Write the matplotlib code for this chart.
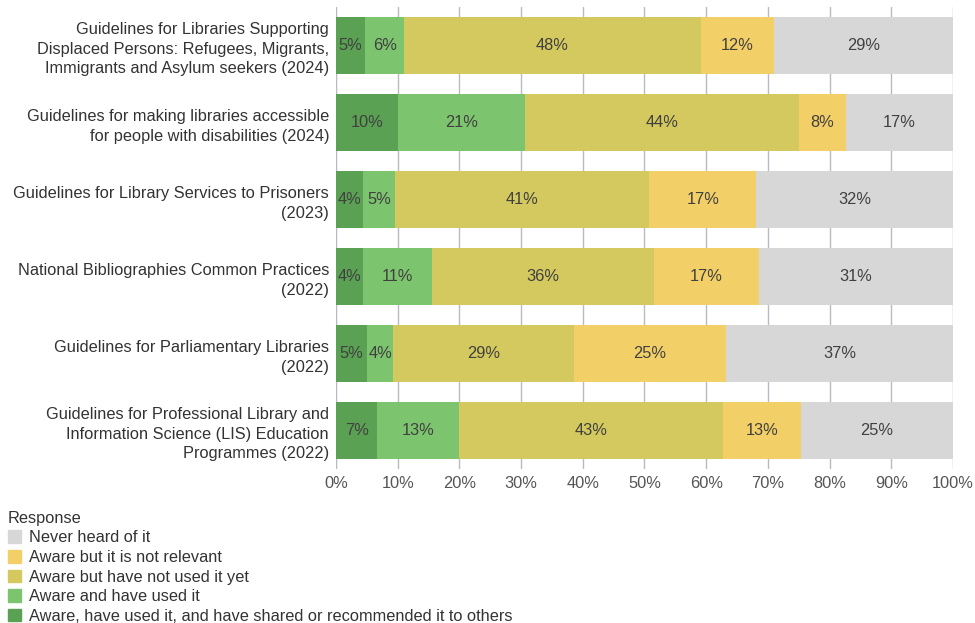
import matplotlib.pyplot as plt
from matplotlib.patches import Patch
import numpy as np

plt.rcParams['font.family'] = ['Liberation Sans', 'DejaVu Sans']

guidelines = [
    "Guidelines for Libraries Supporting\nDisplaced Persons: Refugees, Migrants,\nImmigrants and Asylum seekers (2024)",
    "Guidelines for making libraries accessible\nfor people with disabilities (2024)",
    "Guidelines for Library Services to Prisoners\n(2023)",
    "National Bibliographies Common Practices\n(2022)",
    "Guidelines for Parliamentary Libraries\n(2022)",
    "Guidelines for Professional Library and\nInformation Science (LIS) Education\nProgrammes (2022)",
]

# percent of respondents, one list per response
shared = [4.7, 10.1, 4.3, 4.3, 5.1, 6.7]
used = [6.4, 20.6, 5.3, 11.2, 4.1, 13.2]
not_used = [48.0, 44.3, 41.2, 36.0, 29.4, 42.8]
not_relevant = [11.9, 7.7, 17.3, 17.1, 24.6, 12.7]
never_heard = [29.0, 17.3, 31.9, 31.4, 36.8, 24.6]

responses = [
    "Aware, have used it, and have shared or recommended it to others",
    "Aware and have used it",
    "Aware but have not used it yet",
    "Aware but it is not relevant",
    "Never heard of it",
]
colors = ["#5aa153", "#7dc46f", "#d4c95f", "#f3d067", "#d7d7d7"]
series = [shared, used, not_used, not_relevant, never_heard]

fs = 11.8

fig = plt.figure(figsize=(9.75, 6.23), dpi=100)
ax = fig.add_axes([0.3446, 0.2472, 0.6328, 0.7416])

y = np.arange(len(guidelines))
left = np.zeros(len(guidelines))
for vals, col, name in zip(series, colors, responses):
    vals = np.array(vals)
    bars = ax.barh(y, vals, left=left, height=0.74, color=col, label=name, zorder=2)
    ax.bar_label(bars, labels=[f"{v:.0f}%" for v in vals], label_type='center',
                 color='#404040', fontsize=fs)
    left += vals

ax.set_xlim(0, 100)
ax.set_ylim(len(guidelines) - 0.5, -0.5)
ax.set_xticks(np.arange(0, 101, 10))
ax.set_xticklabels([f"{t}%" for t in range(0, 101, 10)], color='#555555', fontsize=fs)
ax.set_yticks(y)
ax.set_yticklabels(guidelines, color='#333333', fontsize=fs, linespacing=1.38)
ax.tick_params(length=0, pad=5)
ax.tick_params(axis='x', pad=5)
ax.grid(axis='x', color='#b8bcc2', linewidth=1, zorder=0)
for s in ax.spines.values():
    s.set_visible(False)
ax.axvline(0, color='#e3e3e3', linewidth=1, zorder=1)

handles = [Patch(color=c) for c in colors][::-1]
labels = responses[::-1]
leg = fig.legend(handles, labels, title="Response", loc='upper left',
                 bbox_to_anchor=(0.008, 0.18), frameon=False, fontsize=fs,
                 title_fontsize=fs, alignment='left', handlelength=0.8,
                 handleheight=0.8, handletextpad=0.5, labelspacing=0.28,
                 borderaxespad=0, borderpad=0)
for t in leg.get_texts():
    t.set_color('#333333')
leg.get_title().set_color('#333333')

fig.savefig("out.png", dpi=100)
